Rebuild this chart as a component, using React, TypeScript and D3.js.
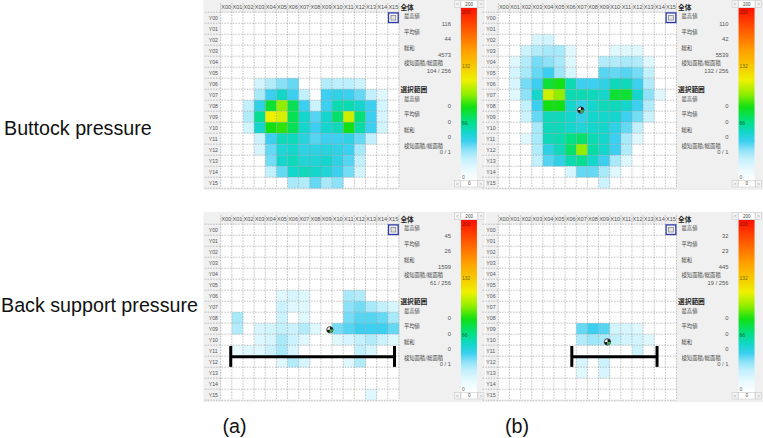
import React from "react";
import * as d3 from "d3";

const W = 763;
const H = 438;

const xLabels = d3.range(16).map((i) => `X${String(i).padStart(2, "0")}`);
const yLabels = d3.range(16).map((i) => `Y${String(i).padStart(2, "0")}`);

// sparse heatmap rows: [rowIndex, startColumn, values...]
type Row = [number, number, number[]];

const buttockA: Row[] = [
  [6, 3, [20, 28, 36, 40, 0, 0, 28, 26, 26, 22]],
  [7, 3, [30, 45, 56, 45, 25, 0, 45, 48, 45, 40, 25, 15]],
  [8, 2, [25, 48, 80, 100, 75, 45, 22, 45, 60, 60, 55, 45, 20]],
  [9, 2, [28, 65, 116, 112, 75, 55, 42, 55, 72, 110, 70, 45, 18]],
  [10, 2, [20, 55, 85, 88, 75, 55, 45, 55, 58, 85, 62, 45, 20]],
  [11, 3, [22, 45, 58, 58, 50, 42, 45, 45, 48, 40, 25]],
  [12, 3, [18, 40, 52, 55, 48, 48, 50, 48, 45, 30]],
  [13, 4, [38, 55, 58, 52, 52, 55, 48, 42, 25]],
  [14, 4, [25, 40, 55, 58, 55, 52, 45, 38, 20]],
  [15, 6, [30, 28, 40, 30, 35]],
];

const buttockB: Row[] = [
  [2, 3, [18, 20]],
  [3, 2, [22, 28, 30, 30, 15, 0, 0, 0, 15, 15, 15]],
  [4, 1, [15, 28, 38, 35, 30, 15, 0, 0, 28, 28, 30, 28, 15]],
  [5, 1, [20, 30, 40, 45, 32, 18, 0, 0, 42, 40, 42, 38, 25]],
  [6, 1, [18, 38, 45, 80, 85, 60, 45, 45, 48, 58, 58, 45, 28]],
  [7, 1, [15, 35, 55, 110, 100, 60, 60, 58, 55, 80, 80, 55, 35, 15]],
  [8, 2, [25, 45, 85, 85, 55, 48, 55, 58, 58, 55, 45, 28]],
  [9, 2, [22, 40, 58, 58, 55, 48, 55, 55, 55, 45, 38, 22]],
  [10, 3, [30, 58, 58, 55, 52, 55, 55, 48, 40, 25]],
  [11, 2, [15, 30, 58, 60, 68, 72, 60, 55, 45, 30, 15]],
  [12, 3, [28, 48, 58, 72, 100, 62, 55, 45, 28]],
  [13, 3, [25, 42, 48, 60, 65, 55, 45, 30, 15]],
  [14, 6, [18, 40, 40, 30, 15]],
  [15, 9, [22]],
];

const backA: Row[] = [
  [6, 5, [15, 18, 15, 0, 0, 0, 30, 28]],
  [7, 5, [22, 15, 15, 0, 0, 0, 35, 38, 30, 25, 18]],
  [8, 1, [30, 0, 0, 0, 22, 0, 15, 0, 0, 0, 38, 42, 42, 40, 30]],
  [9, 1, [28, 0, 18, 20, 25, 22, 28, 15, 0, 38, 42, 45, 45, 45, 40]],
  [10, 3, [15, 18, 30, 22, 15, 0, 0, 15, 18, 25, 28, 22, 15]],
  [11, 1, [12, 15, 15, 22, 30, 18, 0, 0, 0, 0, 0, 25, 18]],
  [12, 5, [15, 28, 18, 0, 0, 0, 15, 28]],
  [15, 13, [15]],
];

const backB: Row[] = [
  [9, 7, [40, 45, 42, 20, 18, 15]],
  [10, 7, [28, 32, 30, 25, 20, 20, 15]],
  [11, 12, [22]],
  [12, 7, [18, 0, 22]],
  [13, 7, [15, 0, 18]],
];

const overallHeading = "全体";
const selectionHeading = "選択範囲";
const statLabels = ["最高値", "平均値", "総和", "検知面積/総面積"];
const overallButtockA = ["116", "44", "4573", "104 / 256"];
const overallButtockB = ["110", "42", "5539", "132 / 256"];
const overallBackA = ["45", "26", "1599", "61 / 256"];
const overallBackB = ["32", "23", "445", "19 / 256"];
const selectionValues = ["0", "0", "0", "0 / 1"];

const colorDomain = [0, 12, 25, 35, 45, 55, 68, 85, 100, 116, 150, 200];
const colorRange = [
  "#ffffff", "#e8faff", "#c2f0fc", "#8ee2f8", "#3ccff0", "#14d6cc",
  "#00e084", "#12e012", "#92ee00", "#eef000", "#ffa000", "#ff1000",
];
const colorbarTicks = [200, 132, 66, 0];
const spinMax = "200";
const spinMin = "0";

const rowTitles = ["Buttock pressure", "Back support pressure"];
const columnTitles = ["(a)", "(b)"];

// layout
const CW = 11.14;
const CH = 11;
const color = d3.scaleLinear<string>().domain(colorDomain).range(colorRange).interpolate(d3.interpolateRgb).clamp(true);

type PanelSpec = {
  gx: number;
  gy: number;
  rows: Row[];
  overall: string[];
  cursor?: [number, number];
  bar?: [number, number, number];
  bgStart: number;
  bgEnd: number;
};

const panels: PanelSpec[] = [
  { gx: 220.7, gy: 12.2, rows: buttockA, overall: overallButtockA, bgStart: 203.5, bgEnd: 485 },
  { gx: 498.3, gy: 12.2, rows: buttockB, overall: overallButtockB, cursor: [7.4, 8.9], bgStart: 486, bgEnd: 763 },
  { gx: 220.7, gy: 224.2, rows: backA, overall: overallBackA, cursor: [9.8, 9.6], bar: [0.9, 15.6, 12.05], bgStart: 203.5, bgEnd: 485 },
  { gx: 498.3, gy: 224.2, rows: backB, overall: overallBackB, cursor: [9.8, 10.7], bar: [6.6, 14.25, 12.05], bgStart: 486, bgEnd: 763 },
];

const SANS = "'Liberation Sans', Arial, sans-serif";
const CJK = "'Noto Sans CJK JP', 'Noto Sans', sans-serif";

function Spin({ x, y, w, label }: { x: number; y: number; w: number; label: string }) {
  return (
    <g>
      <rect x={x} y={y} width={6} height={6.5} fill="#f4f4f4" stroke="#c4c4c4" strokeWidth={0.5} />
      <text x={x + 3} y={y + 3.4} fontSize={5} fill="#999" textAnchor="middle" dominantBaseline="central" fontFamily={SANS}>{"<"}</text>
      <rect x={x + 6.5} y={y} width={w - 13} height={6.5} fill="#fff" stroke="#c4c4c4" strokeWidth={0.5} />
      <text x={x + w / 2} y={y + 3.4} fontSize={4.6} fill="#444" textAnchor="middle" dominantBaseline="central" fontFamily={SANS}>{label}</text>
      <rect x={x + w - 6} y={y} width={6} height={6.5} fill="#f4f4f4" stroke="#c4c4c4" strokeWidth={0.5} />
      <text x={x + w - 3} y={y + 3.4} fontSize={5} fill="#999" textAnchor="middle" dominantBaseline="central" fontFamily={SANS}>{">"}</text>
    </g>
  );
}

function Panel({ spec, idx }: { spec: PanelSpec; idx: number }) {
  const { gx, gy, rows, overall, cursor, bar, bgStart, bgEnd } = spec;
  const x = d3.scaleBand().domain(xLabels).range([gx, gx + 16 * CW]);
  const y = d3.scaleBand().domain(yLabels).range([gy, gy + 16 * CH]);
  const colPos = d3.scaleLinear().domain([0, 16]).range([gx, gx + 16 * CW]);
  const rowPos = d3.scaleLinear().domain([0, 16]).range([gy, gy + 16 * CH]);
  const gr = gx + 16 * CW;
  const gb = gy + 16 * CH;
  const top = gy - 12.2;
  const cells = rows
    .flatMap(([r, c0, vals]) => vals.map((v, i) => ({ r, c: c0 + i, v })))
    .filter((d) => d.v > 0);
  const cbX = gr + 62;
  const cb = d3.scaleLinear().domain([0, 200]).range([top + 180, top + 8]);
  const labelYs = [16, 32, 48, 63];
  const valueYs = [24, 39, 55, 71];
  const selLabelYs = [99, 114, 130, 146];
  const selValueYs = [106, 122, 137, 152];

  return (
    <g>
      <rect x={bgStart} y={top} width={bgEnd - bgStart} height={190} fill="#f0f0f0" />
      <rect x={gx} y={gy} width={16 * CW} height={16 * CH} fill="#ffffff" />
      {cells.map((d, i) => (
        <rect key={i} x={x(xLabels[d.c])} y={y(yLabels[d.r])} width={x.bandwidth() + 0.2} height={y.bandwidth() + 0.2} fill={color(d.v)} />
      ))}
      {d3.range(17).map((i) => (
        <line key={"v" + i} x1={colPos(i)} x2={colPos(i)} y1={gy - 9} y2={gb} stroke="#9a9a9a" strokeWidth={0.6} strokeDasharray="1.6,1.2" />
      ))}
      {d3.range(17).map((i) => (
        <line key={"h" + i} x1={gx - 16} x2={gr} y1={rowPos(i)} y2={rowPos(i)} stroke="#9a9a9a" strokeWidth={0.6} strokeDasharray="1.6,1.2" />
      ))}
      {xLabels.map((l) => (
        <text key={l} x={(x(l) as number) + x.bandwidth() / 2} y={gy - 5.5} fontSize={5.6} fill="#555" textAnchor="middle" dominantBaseline="central" fontFamily={SANS}>{l}</text>
      ))}
      {yLabels.map((l) => (
        <text key={l} x={gx - 12} y={(y(l) as number) + y.bandwidth() / 2} fontSize={5.2} fill="#555" dominantBaseline="central" fontFamily={SANS}>{l}</text>
      ))}
      {/* selection icon in X15,Y00 */}
      <rect x={(x("X15") as number) + 0.7} y={(y("Y00") as number) + 0.7} width={CW - 1.4} height={CH - 1.4} fill="#f4f4f8" stroke="#2d3aa8" strokeWidth={1.3} />
      <rect x={(x("X15") as number) + 3.2} y={(y("Y00") as number) + 3.2} width={CW - 6.4} height={CH - 6.4} fill="#e4e4e4" stroke="#808080" strokeWidth={0.7} />

      {/* side statistics */}
      <text x={gr + 1.5} y={top + 7} fontSize={6.7} fontWeight="bold" fill="#222" dominantBaseline="central" fontFamily={CJK}>{overallHeading}</text>
      {statLabels.map((l, i) => (
        <text key={"l" + i} x={gr + 5} y={top + labelYs[i]} fontSize={5.3} fill="#444" dominantBaseline="central" fontFamily={CJK}>{l}</text>
      ))}
      {overall.map((v, i) => (
        <text key={"o" + i} x={gr + 52} y={top + valueYs[i]} fontSize={5.8} fill="#555" textAnchor="end" dominantBaseline="central" fontFamily={SANS}>{v}</text>
      ))}
      <text x={gr + 1.5} y={top + 89} fontSize={6.7} fontWeight="bold" fill="#222" dominantBaseline="central" fontFamily={CJK}>{selectionHeading}</text>
      {statLabels.map((l, i) => (
        <text key={"sl" + i} x={gr + 5} y={top + selLabelYs[i]} fontSize={5.3} fill="#444" dominantBaseline="central" fontFamily={CJK}>{l}</text>
      ))}
      {selectionValues.map((v, i) => (
        <text key={"sv" + i} x={gr + 52} y={top + selValueYs[i]} fontSize={5.8} fill="#555" textAnchor="end" dominantBaseline="central" fontFamily={SANS}>{v}</text>
      ))}

      {/* colorbar */}
      <rect x={cbX} y={cb(200)} width={16} height={cb(0) - cb(200)} fill="url(#cbgrad)" />
      {colorbarTicks.map((t) => (
        <text key={t} x={cbX + 1} y={Math.max(cb(200) + 4, Math.min(cb(0) - 3, cb(t)))} fontSize={5} fill={t === 200 ? "#8a1000" : t === 132 ? "#7a6a00" : t === 66 ? "#006a30" : "#666"} dominantBaseline="central" fontFamily={SANS}>{t}</text>
      ))}
      <Spin x={cbX - 6.5} y={top + 0.8} w={29.5} label={spinMax} />
      <Spin x={cbX - 6.5} y={top + 180.5} w={29.5} label={spinMin} />

      {cursor && (
        <g transform={`translate(${colPos(cursor[0])},${rowPos(cursor[1])})`}>
          <circle r={3.2} fill="#fff" stroke="#1a1a1a" strokeWidth={0.8} />
          <path d={d3.arc()({ innerRadius: 0, outerRadius: 3, startAngle: 0, endAngle: Math.PI / 2 }) as string} fill="#1a1a1a" />
          <path d={d3.arc()({ innerRadius: 0, outerRadius: 3, startAngle: Math.PI, endAngle: Math.PI * 1.5 }) as string} fill="#1a1a1a" />
          <path d={d3.arc()({ innerRadius: 0, outerRadius: 3, startAngle: Math.PI / 2, endAngle: Math.PI }) as string} fill="#3cb050" />
        </g>
      )}
      {bar && (
        <g stroke="#000" strokeWidth={3}>
          <line x1={colPos(bar[0])} x2={colPos(bar[1])} y1={rowPos(bar[2])} y2={rowPos(bar[2])} />
          <line x1={colPos(bar[0])} x2={colPos(bar[0])} y1={rowPos(bar[2] - 0.98)} y2={rowPos(bar[2] + 0.92)} />
          <line x1={colPos(bar[1])} x2={colPos(bar[1])} y1={rowPos(bar[2] - 0.98)} y2={rowPos(bar[2] + 0.92)} />
        </g>
      )}
    </g>
  );
}

export default function App() {
  return (
    <svg width={W} height={H} viewBox={`0 0 ${W} ${H}`} style={{ position: "absolute", left: 0, top: 0, background: "#fff" }}>
      <defs>
        <linearGradient id="cbgrad" x1="0" y1="1" x2="0" y2="0">
          {colorDomain.map((v, i) => (
            <stop key={i} offset={v / 200} stopColor={colorRange[i]} />
          ))}
        </linearGradient>
      </defs>
      <rect width={W} height={H} fill="#fff" />
      {panels.map((p, i) => (
        <Panel key={i} spec={p} idx={i} />
      ))}
      <text x={4} y={135} fontSize={19.7} fill="#111" fontFamily={SANS}>{rowTitles[0]}</text>
      <text x={1} y={311.7} fontSize={19.7} fill="#111" fontFamily={SANS}>{rowTitles[1]}</text>
      <text x={222.5} y={433} fontSize={19.7} fill="#111" fontFamily={SANS}>{columnTitles[0]}</text>
      <text x={505} y={433} fontSize={19.7} fill="#111" fontFamily={SANS}>{columnTitles[1]}</text>
    </svg>
  );
}
